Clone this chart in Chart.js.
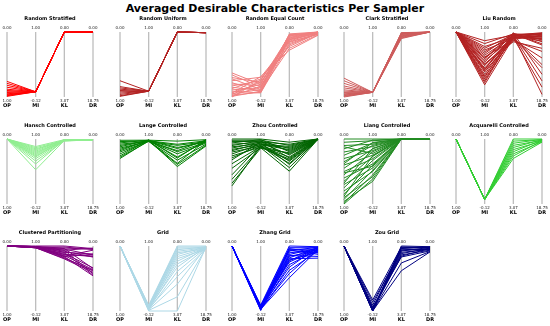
<!DOCTYPE html>
<html>
<head>
<meta charset="utf-8">
<script src="https://cdn.jsdelivr.net/npm/chart.js@4.4.1/dist/chart.umd.min.js"></script>
<style>
  body { margin: 0; background: #fff; width: 550px; height: 326px; position: relative; overflow: hidden; font-family: "DejaVu Sans", sans-serif; }
  #title { position: absolute; top: 1px; left: 0; width: 550px; text-align: center; font-weight: bold; font-size: 11px; line-height: 16px; }
  canvas { position: absolute; }
</style>
</head>
<body>
<div id="title">Averaged Desirable Characteristics Per Sampler</div>
<script>
// axes of every parallel-coordinates panel
const axisNames = ["OP", "MI", "KL", "DR"];
const axisTop = [0, 1, 0, 0];
const axisBottom = [1, -0.12, 3.07, 18.75];
const topTicks = ["0.00", "1.00", "0.00", "0.00"];
const bottomTicks = ["1.00", "-0.12", "3.07", "18.75"];

const samplers = [
  "Random Stratified", "Random Uniform", "Random Equal Count", "Clark Stratified", "Liu Random",
  "Hansch Controlled", "Lange Controlled", "Zhou Controlled", "Liang Controlled", "Acquarelli Controlled",
  "Clustered Partitioning", "Grid", "Zhang Grid", "Zou Grid"
];
const colors = [
  "#ff0000", "#b22222", "#f08080", "#cd5c5c", "#b22222",
  "#90ee90", "#008000", "#006400", "#228b22", "#32cd32",
  "#800080", "#add8e6", "#0000ff", "#000080"
];

// each row: [OP, MI, KL, DR]
const randomStratified = [
  [0.76,-0.03,0,0],[0.79,-0.03,0,0],[0.82,-0.03,0,0],[0.85,-0.03,0,0],[0.88,-0.03,0,0],
  [0.90,-0.03,0,0],[0.92,-0.03,0,0],[0.93,-0.03,0,0],[0.95,-0.03,0,0],[0.96,-0.03,0,0],
  [0.97,-0.03,0,0],[0.98,-0.03,0,0],[0.99,-0.03,0,0]
];
const randomUniform = [
  [0.75,-0.02,0,0.2],[0.84,-0.02,0,0.2],[0.86,-0.02,0,0.2],[0.88,-0.02,0,0.2],[0.90,-0.02,0,0.2],
  [0.92,-0.02,0,0.2],[0.94,-0.02,0,0.2],[0.96,-0.02,0,0.2],[0.98,-0.02,0,0.2],[0.99,-0.02,0,0.2]
];
const randomEqualCount = [
  [0.63,0.10,0.15,0.0],[0.66,0.05,0.25,0.19],[0.70,0.13,0.37,0.38],[0.72,0.01,0.09,0.0],
  [0.75,0.22,0.46,0.56],[0.78,-0.03,0.31,0.0],[0.80,0.08,0.61,0.38],[0.83,0.16,0.18,0.19],
  [0.85,-0.01,0.77,0.75],[0.87,0.19,0.43,0.0],[0.89,0.04,0.12,0.19],[0.91,-0.05,0.55,0.56],
  [0.93,0.10,0.28,0.0],[0.94,0.23,0.86,0.94],[0.95,0.01,0.21,0.19],[0.96,0.14,0.68,0.38],
  [0.97,-0.04,0.37,0.0],[0.98,0.06,0.49,0.56],[0.99,-0.02,0.15,0.19],[1.00,0.17,0.34,0.38]
];
const clarkStratified = [
  [0.71,-0.04,0.31,0],[0.75,-0.04,0.25,0],[0.79,-0.04,0.20,0],[0.83,-0.04,0.15,0],[0.86,-0.04,0.12,0],
  [0.89,-0.04,0.28,0],[0.91,-0.04,0.09,0],[0.93,-0.04,0.06,0],[0.95,-0.04,0.18,0],[0.96,-0.04,0.05,0],
  [0.97,-0.04,0.10,0],[0.98,-0.04,0.03,0],[0.99,-0.04,0.22,0],[1.00,-0.04,0.08,0]
];
const liuRandom = [
  [0,0.85,0.15,0.4],[0,0.80,0.09,0.9],[0,0.75,0.25,1.9],[0,0.72,0.12,0.6],[0,0.69,0.31,10.3],
  [0,0.66,0.18,1.5],[0,0.63,0.06,2.8],[0,0.60,0.21,0.75],[0,0.57,0.37,7.5],[0,0.54,0.15,2.25],
  [0,0.51,0.28,0.4],[0,0.48,0.09,3.75],[0,0.45,0.34,1.1],[0,0.42,0.18,14.1],[0,0.38,0.25,1.7],
  [0,0.36,0.12,0.6],[0,0.33,0.40,5.6],[0,0.31,0.21,2.6],[0,0.27,0.15,18.0],[0,0.24,0.31,0.9],
  [0,0.22,0.09,3.4],[0,0.19,0.25,9.4],[0,0.16,0.18,1.3],[0,0.13,0.12,2.1],[0,0.09,0.28,15.9],
  [0,0.44,0.46,4.7],[0,0.55,0.06,12.2],[0,0.35,0.15,0.2]
];
const hanschControlled = [
  [0,0.87,0.03,0.28],[0,0.85,0.06,0.28],[0,0.83,0.09,0.28],[0,0.81,0.03,0.28],[0,0.79,0.05,0.28],
  [0,0.77,0.08,0.28],[0,0.75,0.04,0.28],[0,0.73,0.06,0.28],[0,0.71,0.09,0.28],[0,0.69,0.03,0.28],
  [0,0.66,0.06,0.28],[0,0.62,0.08,0.28],[0,0.57,0.05,0.28],[0,0.47,0.07,0.28]
];
const langeControlled = [
  [0.02,0.98,0.10,0.2],[0.04,0.97,0.25,0.5],[0.06,0.98,0.40,0.9],[0.08,0.96,0.55,0.3],
  [0.10,0.97,0.70,1.2],[0.12,0.98,0.85,0.6],[0.14,0.96,1.00,1.5],[0.16,0.97,1.15,0.4],
  [0.18,0.98,1.30,2.0],[0.20,0.96,0.30,0.8],[0.23,0.97,0.60,1.0],[0.26,0.98,0.90,0.2],
  [0.28,0.96,1.20,1.8],[0.30,0.97,0.45,0.5]
];
const zhouControlled = [
  [0.00,1.00,0.15,0],[0.02,0.98,0.30,0],[0.04,0.96,0.45,0.1],[0.06,0.99,0.60,0],
  [0.08,0.94,0.75,0.1],[0.10,0.97,0.90,0],[0.12,0.92,1.05,0.1],[0.14,0.95,0.25,0],
  [0.16,0.90,0.50,0.1],[0.18,0.93,1.20,0],[0.20,0.88,0.70,0.1],[0.23,0.91,0.35,0],
  [0.26,0.86,1.00,0.1],[0.29,0.89,1.35,0],[0.32,0.95,0.55,0.1],[0.38,0.87,0.85,0],
  [0.45,0.85,1.52,0.1],[0.55,0.90,0.40,0],[0.62,0.86,0.95,0],[0.68,0.84,0.65,0.1],
  [0.72,0.88,1.15,0]
];
const liangControlled = [
  [0.00,1.00,0,0],[0.05,0.97,0,0],[0.10,0.91,0,0],[0.15,0.98,0,0],[0.20,0.87,0,0],
  [0.25,0.93,0,0],[0.30,0.80,0,0],[0.35,0.89,0,0],[0.40,0.72,0,0],[0.45,0.83,0,0],
  [0.50,0.66,0,0],[0.55,0.78,0,0],[0.60,0.57,0,0],[0.65,0.70,0,0],[0.70,0.50,0,0],
  [0.75,0.63,0,0],[0.80,0.44,0,0],[0.85,0.55,0,0],[0.90,0.35,0,0],[0.93,0.46,0,0],
  [0.96,0.27,0,0],[0.98,0.38,0,0],[1.00,0.31,0,0],[0.12,0.75,0,0],[0.38,0.94,0,0],
  [0.68,0.84,0,0],[0.88,0.71,0,0],[0.52,0.53,0,0]
];
const acquarelliControlled = [
  [0,-0.04,0.00,0.0],[0,-0.04,0.10,0.2],[0,-0.04,0.20,0.1],[0,-0.04,0.30,0.4],[0,-0.04,0.40,0.2],
  [0,-0.04,0.50,0.6],[0,-0.04,0.60,0.3],[0,-0.04,0.70,0.8],[0,-0.04,0.80,0.5],[0,-0.04,0.92,0.9]
];
const clusteredPartitioning = [
  [0,1.00,0.00,0.75],[0,0.99,0.10,0.9],[0,0.99,0.20,0.6],[0,0.98,0.30,2.3],[0,0.98,0.15,2.6],
  [0,0.97,0.40,2.9],[0,0.99,0.25,3.2],[0,0.98,0.50,2.4],[0,0.97,0.35,6.3],[0,0.98,0.45,6.8],
  [0,0.99,0.55,7.2],[0,0.97,0.61,7.6],[0,0.98,0.20,8.0],[0,0.99,0.30,8.4],[0,0.97,0.50,8.6],
  [0,0.98,0.05,1.0],[0,0.99,0.40,3.0],[0,0.97,0.58,7.0],[0,0.98,0.12,6.5],[0,0.99,0.48,1.2]
];
const grid = [
  [0,-0.02,0.00,0.0],[0,-0.04,0.05,0.3],[0,-0.05,0.10,0.6],[0,-0.03,0.18,0.2],[0,-0.06,0.25,0.5],
  [0,-0.04,0.32,0.8],[0,-0.07,0.40,0.3],[0,-0.05,0.50,0.6],[0,-0.08,0.60,0.9],[0,-0.06,0.72,0.4],
  [0,-0.09,0.85,0.7],[0,-0.07,1.00,0.2],[0,-0.10,1.20,0.5],[0,-0.08,1.45,0.8],[0,-0.10,1.80,0.4],
  [0,-0.11,2.40,0.6],[0,-0.12,3.07,0.3]
];
const zhangGrid = [
  [0,-0.02,0.00,0.2],[0,-0.04,0.08,0.5],[0,-0.05,0.16,0.9],[0,-0.03,0.24,0.3],[0,-0.06,0.32,1.2],
  [0,-0.04,0.40,0.6],[0,-0.07,0.48,1.5],[0,-0.05,0.56,0.4],[0,-0.08,0.66,1.8],[0,-0.06,0.76,0.8],
  [0,-0.09,0.88,1.1],[0,-0.07,1.00,0.3],[0,-0.10,1.15,1.4],[0,-0.08,1.30,0.7],[0,-0.06,0.20,2.4],
  [0,-0.05,0.45,3.0],[0,-0.09,1.50,1.0],[0,-0.04,0.70,0.5],[0,-0.11,0.12,2.0],[0,-0.10,0.60,3.5]
];
const zouGrid = [
  [0,-0.12,0.00,0.2],[0,-0.11,0.06,0.5],[0,-0.10,0.12,0.3],[0,-0.12,0.18,0.8],[0,-0.09,0.24,0.4],
  [0,-0.08,0.30,1.0],[0,-0.11,0.36,0.6],[0,-0.07,0.42,1.2],[0,-0.10,0.48,0.7],[0,-0.05,0.52,1.4],
  [0,-0.02,0.10,0.3],[0,0.03,0.20,0.9],[0,0.07,0.05,0.5],[0,-0.12,0.80,1.6],[0,-0.12,1.17,1.7]
];

const panelData = [
  randomStratified, randomUniform, randomEqualCount, clarkStratified, liuRandom,
  hanschControlled, langeControlled, zhouControlled, liangControlled, acquarelliControlled,
  clusteredPartitioning, grid, zhangGrid, zouGrid
];

// panel placement (OP axis x, axis top y)
const colX = [7, 120, 232, 344, 456];
const rowY = [32, 139, 246];
const padL = 12, padR = 13, padT = 18, padB = 12;
const plotW = 86, plotH = 65;

const parallelAxes = {
  id: "parallelAxes",
  beforeDatasetsDraw(chart) {
    const { ctx, chartArea, scales: { x } } = chart;
    ctx.save();
    ctx.strokeStyle = "#bdbdbd";
    ctx.lineWidth = 1.3;
    axisNames.forEach((n, i) => {
      const px = x.getPixelForValue(i);
      ctx.beginPath();
      ctx.moveTo(px, chartArea.top);
      ctx.lineTo(px, chartArea.bottom);
      ctx.stroke();
    });
    ctx.restore();
  },
  afterDraw(chart, args, opts) {
    const { ctx, chartArea, scales: { x } } = chart;
    ctx.save();
    ctx.fillStyle = "#222";
    ctx.textAlign = "center";
    ctx.textBaseline = "middle";
    ctx.font = "4px 'DejaVu Sans'";
    axisNames.forEach((n, i) => {
      const px = x.getPixelForValue(i);
      ctx.fillText(topTicks[i], px, chartArea.top - 4.5);
      ctx.fillText(bottomTicks[i], px, chartArea.bottom + 3.5);
    });
    ctx.fillStyle = "#000";
    ctx.font = "bold 5px 'DejaVu Sans'";
    axisNames.forEach((n, i) => {
      ctx.fillText(n, x.getPixelForValue(i), chartArea.bottom + 9);
    });
    ctx.fillText(opts.title, (chartArea.left + chartArea.right) / 2, chartArea.top - 13);
    ctx.restore();
  }
};

samplers.forEach((name, p) => {
  const col = p % 5, row = Math.floor(p / 5);
  const canvas = document.createElement("canvas");
  canvas.width = padL + plotW + padR;
  canvas.height = padT + plotH + padB;
  canvas.style.left = (colX[col] - padL) + "px";
  canvas.style.top = (rowY[row] - padT) + "px";
  document.body.appendChild(canvas);

  const datasets = panelData[p].map(vals => ({
    data: vals.map((v, i) => ({ x: i, y: (v - axisTop[i]) / (axisBottom[i] - axisTop[i]) })),
    borderColor: colors[p],
    borderWidth: 1,
    pointRadius: 0,
    tension: 0,
    clip: false
  }));

  new Chart(canvas.getContext("2d"), {
    type: "line",
    data: { datasets },
    options: {
      responsive: false,
      animation: false,
      layout: { padding: { left: padL, right: padR, top: padT, bottom: padB } },
      scales: {
        x: { type: "linear", min: 0, max: 3, display: false },
        y: { type: "linear", min: 0, max: 1, reverse: true, display: false }
      },
      plugins: {
        legend: { display: false },
        tooltip: { enabled: false },
        parallelAxes: { title: name }
      }
    },
    plugins: [parallelAxes]
  });
});
</script>
</body>
</html>
